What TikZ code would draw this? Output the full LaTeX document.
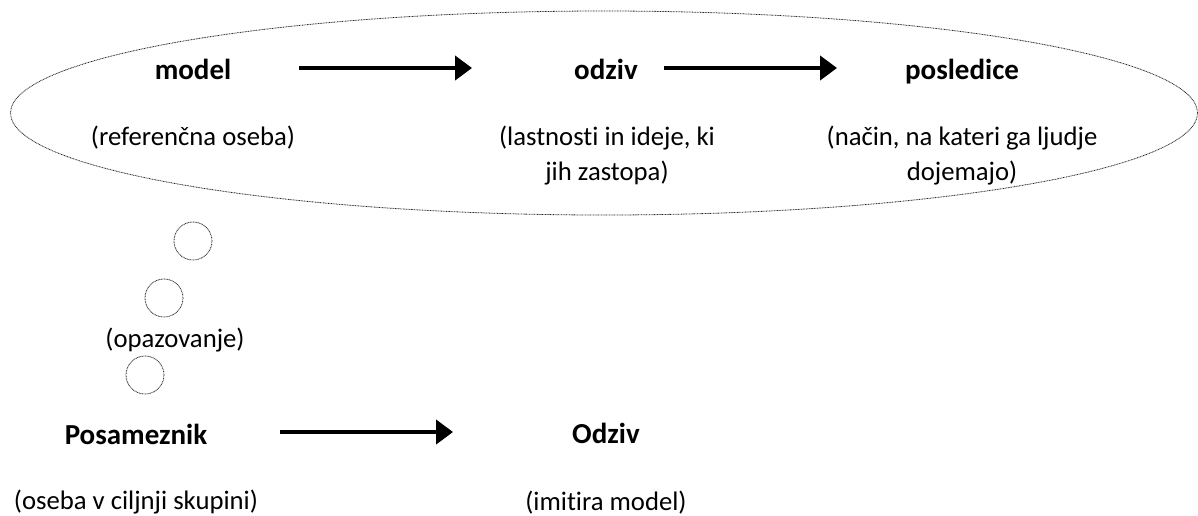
\documentclass[tikz,border=0pt]{standalone}
\usepackage{fontspec}
\setmainfont{Carlito}[Ligatures=NoCommon]
\usetikzlibrary{arrows.meta,shapes.geometric}
\begin{document}
\begin{tikzpicture}[x=1pt,y=-1pt,
  txt/.style={font=\fontsize{26.7}{35}\selectfont, align=center, inner sep=0pt, anchor=base},
  head/.style={txt, font=\fontsize{29}{35}\selectfont\bfseries},
  dots/.style={draw=black!85, line width=0.8pt, dash pattern=on 0.9pt off 0.7pt},
  flow/.style={line width=4.5pt, -{Triangle[length=17pt,width=24pt]}}]
\useasboundingbox (0,0) rectangle (1198,515);

% the thought cloud around the model chain
\node[dots, ellipse, minimum width=1187pt, minimum height=204pt, inner sep=0pt] (cloud) at (604,113) {};

% upper chain (two-line labels are placed by the baseline of their last line)
\node[head] (model) at (193,79) {model};
\node[txt] (modeld) at (193,145) {(referenčna oseba)};
\node[head] (odziv) at (606,79) {odziv};
\node[txt] (odzivd) at (607,180) {(lastnosti in ideje, ki\\jih zastopa)};
\node[head] (posl) at (962,79) {posledice};
\node[txt] (posld) at (962,180) {(način, na kateri ga ljudje\\dojemajo)};

\coordinate (a1s) at (299,68);
\coordinate (a1e) at (472,68);
\coordinate (a2s) at (664,68);
\coordinate (a2e) at (837,68);
\draw[flow] (a1s) -- (a1e);
\draw[flow] (a2s) -- (a2e);

% observation bubbles
\node[dots, circle, minimum size=38pt, inner sep=0pt] (b1) at (193,241) {};
\node[dots, circle, minimum size=38pt, inner sep=0pt] (b2) at (164,298) {};
\node[txt] (opaz) at (175,347) {(opazovanje)};
\node[dots, circle, minimum size=38pt, inner sep=0pt] (b3) at (145,375) {};

% lower chain
\node[head] (pos) at (136,444) {Posameznik};
\node[txt] (posd) at (136,509) {(oseba v ciljnji skupini)};
\node[head] (odz2) at (606,443) {Odziv};
\node[txt] (odz2d) at (606,510) {(imitira model)};
\coordinate (a3s) at (280,432);
\coordinate (a3e) at (453,432);
\draw[flow] (a3s) -- (a3e);
\end{tikzpicture}
\end{document}
